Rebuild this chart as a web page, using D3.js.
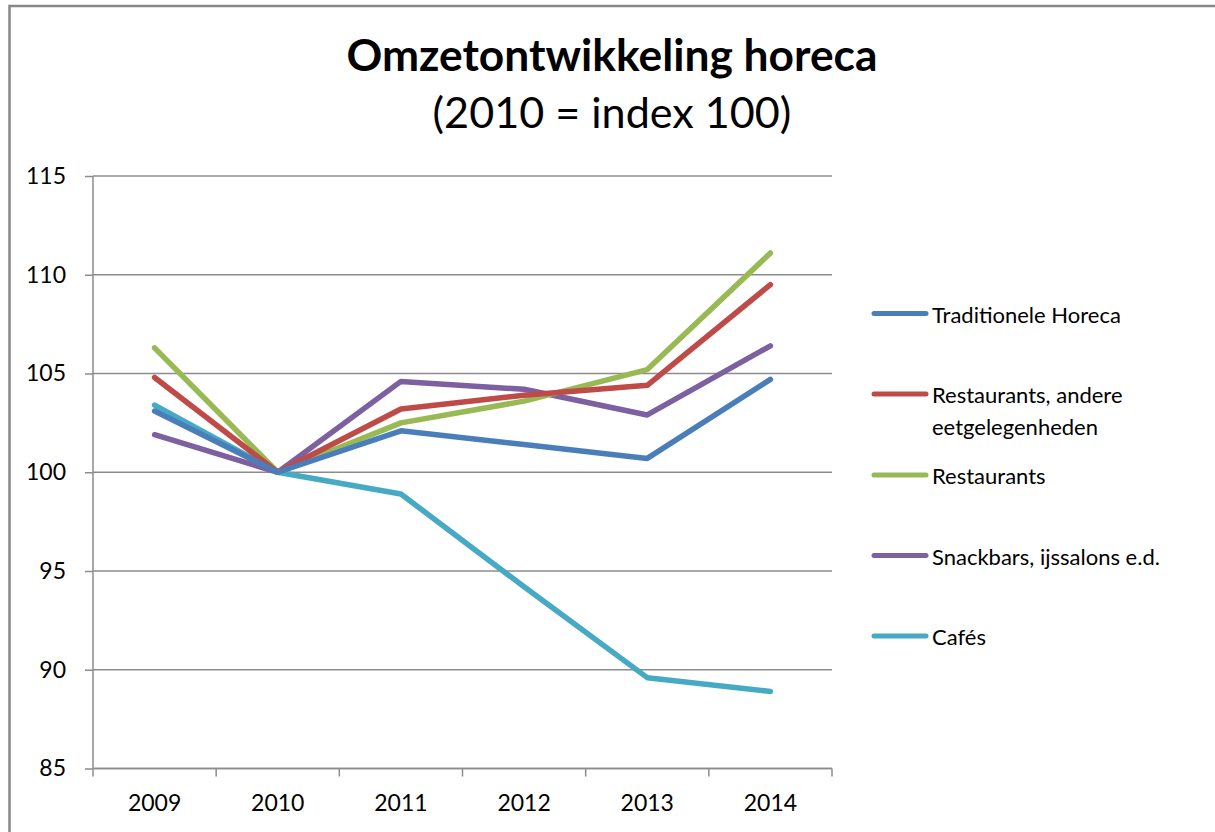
<!DOCTYPE html>
<html>
<head>
<meta charset="utf-8">
<script src="https://cdn.jsdelivr.net/npm/d3@7"></script>
<style>
  body { margin: 0; background: #fff; }
  svg { display: block; }
</style>
</head>
<body>
<div id="chart"></div>
<script>
"use strict";

// data
var years = ["2009", "2010", "2011", "2012", "2013", "2014"];
var seriesNames = ["Traditionele Horeca", "Restaurants, andere eetgelegenheden", "Restaurants", "Snackbars, ijssalons e.d.", "Cafés"];
var traditioneel = [103.1, 100, 102.1, 101.4, 100.7, 104.7];
var restAndere   = [104.8, 100, 103.2, 103.9, 104.4, 109.5];
var restaurants  = [106.3, 100, 102.5, 103.6, 105.2, 111.1];
var snackbars    = [101.9, 100, 104.6, 104.2, 102.9, 106.4];
var cafes        = [103.4, 100, 98.9, 94.2, 89.6, 88.9];
var yTicks = [85, 90, 95, 100, 105, 110, 115];
var colors = ["#4a7ebb", "#be4b48", "#98b954", "#7d60a0", "#46aac5"];

var width = 1215, height = 832;
var font = "Lato, 'Open Sans', sans-serif";

var series = [traditioneel, restAndere, restaurants, snackbars, cafes].map(function(v, i) {
  return {name: seriesNames[i], values: v, color: colors[i]};
});

var svg = d3.select("#chart").append("svg")
    .attr("width", width)
    .attr("height", height);

// outer chart border (runs off the right and bottom)
svg.append("rect")
    .attr("x", 9.5).attr("y", 6)
    .attr("width", 1300).attr("height", 900)
    .style("fill", "#fff")
    .style("stroke", "#888")
    .style("stroke-width", 2.5);

var x = d3.scaleBand().domain(years).range([93, 832]);
var y = d3.scaleLinear().domain([85, 115]).range([768.5, 176]);

// gridlines
svg.append("g")
  .selectAll("line")
    .data(yTicks)
  .enter().append("line")
    .attr("x1", 93).attr("x2", 832)
    .attr("y1", function(d) { return y(d); })
    .attr("y2", function(d) { return y(d); })
    .style("stroke", "#8c8c8c")
    .style("stroke-width", 1.5);

// y axis
var yAxis = svg.append("g")
    .attr("transform", "translate(93,0)")
    .call(d3.axisLeft(y).tickValues(yTicks).tickSize(8).tickPadding(19));
yAxis.select(".domain").style("stroke", "#8c8c8c").style("stroke-width", 1.5)
    .attr("d", "M0," + y(115) + "V" + y(85));
yAxis.selectAll(".tick line").style("stroke", "#8c8c8c").style("stroke-width", 1.5);
yAxis.selectAll(".tick text")
    .style("font-family", font).style("font-size", "23px").style("fill", "#000");

// x axis: labels centred in bands, ticks on band edges
var xAxis = svg.append("g")
    .attr("transform", "translate(0," + y(85) + ")")
    .call(d3.axisBottom(x).tickSize(0).tickPadding(26));
xAxis.select(".domain").remove();
xAxis.selectAll(".tick text")
    .style("font-family", font).style("font-size", "23px").style("fill", "#000");
var edges = years.map(function(d) { return x(d); }).concat([x.range()[1]]);
xAxis.append("g").selectAll("line")
    .data(edges)
  .enter().append("line")
    .attr("x1", function(d) { return d; }).attr("x2", function(d) { return d; })
    .attr("y1", 0).attr("y2", 8)
    .style("stroke", "#8c8c8c").style("stroke-width", 1.5);
xAxis.append("line")
    .attr("x1", 93).attr("x2", 832).attr("y1", 0).attr("y2", 0)
    .style("stroke", "#8c8c8c").style("stroke-width", 1.5);

// lines
var line = d3.line()
    .x(function(d, i) { return x(years[i]) + x.bandwidth() / 2; })
    .y(function(d) { return y(d); });

svg.append("g")
  .selectAll("path")
    .data(series.slice().reverse())
  .enter().append("path")
    .attr("d", function(d) { return line(d.values); })
    .style("fill", "none")
    .style("stroke", function(d) { return d.color; })
    .style("stroke-width", 5.5)
    .style("stroke-linejoin", "round")
    .style("stroke-linecap", "round");

// legend
var legendRows = [
  {lines: ["Traditionele Horeca"], y: 313.5},
  {lines: ["Restaurants, andere", "eetgelegenheden"], y: 394},
  {lines: ["Restaurants"], y: 475},
  {lines: ["Snackbars, ijssalons e.d."], y: 555.5},
  {lines: ["Cafés"], y: 636}
];
var legend = svg.append("g")
  .selectAll("g")
    .data(legendRows)
  .enter().append("g")
    .attr("transform", function(d) { return "translate(0," + d.y + ")"; });
legend.append("line")
    .attr("x1", 874).attr("x2", 926)
    .style("stroke", function(d, i) { return colors[i]; })
    .style("stroke-width", 5)
    .style("stroke-linecap", "round");
legend.append("text")
    .attr("x", 932)
    .attr("y", 9)
    .style("font-family", font).style("font-size", "22px").style("fill", "#000")
  .selectAll("tspan")
    .data(function(d) { return d.lines; })
  .enter().append("tspan")
    .attr("x", 932)
    .attr("dy", function(d, i) { return i ? 32 : 0; })
    .text(function(d) { return d; });

// titles, fitted to the widths seen in the picture
function fit(sel, w) {
  var len = sel.node().getComputedTextLength();
  var fs = parseFloat(sel.style("font-size"));
  sel.style("font-size", (fs * w / len) + "px");
}
var title = svg.append("text")
    .attr("x", 612).attr("y", 71)
    .attr("text-anchor", "middle")
    .style("font-family", font).style("font-weight", "bold").style("font-size", "38px")
    .text("Omzetontwikkeling horeca");
fit(title, 531);
var subtitle = svg.append("text")
    .attr("x", 612).attr("y", 128)
    .attr("text-anchor", "middle")
    .style("font-family", font).style("font-size", "38px")
    .text("(2010 = index 100)");
fit(subtitle, 359);
</script>
</body>
</html>
